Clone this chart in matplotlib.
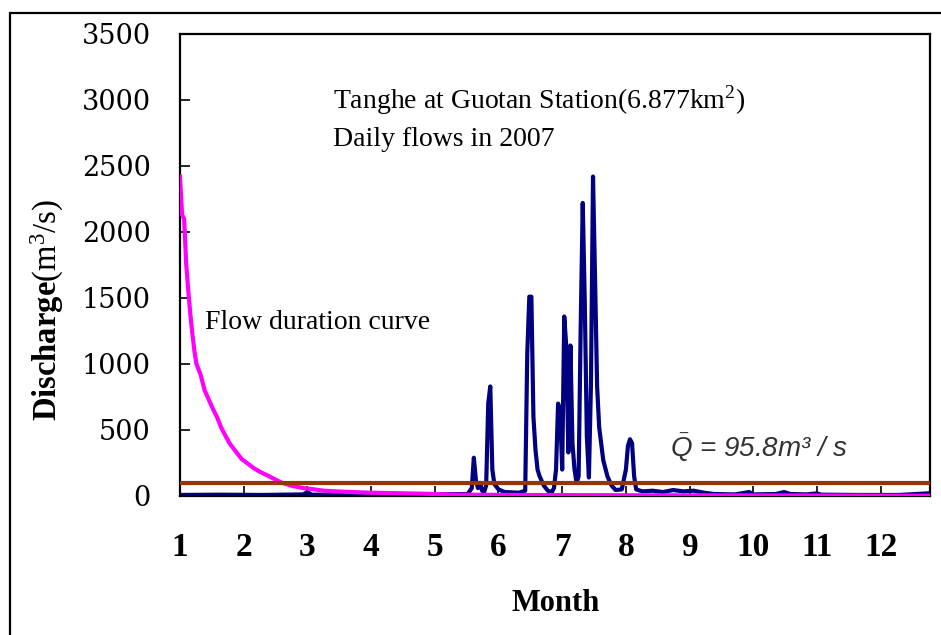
import matplotlib
matplotlib.use("Agg")
import matplotlib.pyplot as plt
from matplotlib.patches import Rectangle

plt.rcParams['mathtext.fontset'] = 'custom'
plt.rcParams['mathtext.rm'] = 'Liberation Serif'
plt.rcParams['mathtext.bf'] = 'Liberation Serif:bold'
plt.rcParams['mathtext.it'] = 'Liberation Sans:italic'

# daily flows in 2007 (day of year, m3/s)
flow_day = [0, 20, 40, 60, 62, 64, 90, 120, 140, 142, 143, 144, 145, 146, 147, 148,
            149, 150, 151, 152, 153, 155, 158, 165, 168, 169, 170, 171, 172, 173, 174,
            175, 177, 179, 181, 182, 183, 184, 185, 186, 187, 188, 189, 190, 191, 192,
            193, 194, 195, 196, 197, 198, 199, 200, 201, 202, 203, 204, 206, 208, 210,
            212, 215, 217, 218, 219, 220, 221, 222, 225, 230, 235, 240, 245, 250, 255,
            260, 270, 277, 279, 290, 294, 297, 305, 310, 312, 330, 350, 364]
flow_q = [8, 10, 8, 12, 30, 10, 10, 12, 15, 60, 290, 120, 60, 100, 40, 30,
          80, 700, 830, 200, 90, 50, 30, 25, 40, 1080, 1510, 1510, 600, 350, 200,
          150, 80, 40, 30, 60, 200, 700, 650, 200, 1360, 1130, 330, 1140, 400, 200,
          100, 150, 1280, 2220, 1460, 450, 140, 850, 2420, 1640, 830, 520, 270, 150, 80,
          45, 50, 200, 380, 430, 400, 150, 50, 35, 40, 30, 45, 35, 40, 25,
          15, 12, 30, 12, 15, 30, 15, 12, 20, 10, 8, 8, 20]

# flow duration curve (flows sorted high to low)
fdc_day = [0, 1, 2, 3, 4, 5, 6, 7, 8, 10, 12, 14, 16, 18, 20, 22, 24, 27, 30, 33, 36,
           39, 42, 45, 48, 50, 55, 60, 64, 70, 80, 93, 110, 125, 134, 160, 200, 250,
           300, 364]
fdc_q = [2420, 2130, 2100, 1760, 1560, 1380, 1230, 1100, 1000, 920, 800, 730, 660, 598,
         520, 460, 402, 340, 280, 245, 210, 182, 160, 136, 112, 98, 75, 60, 53, 40, 32,
         25, 20, 15, 10, 8, 6, 5, 4, 2]

q_mean = 95.8
month_ticks = [0, 31, 62, 93, 124, 155, 186, 217, 248, 279, 310, 341]
month_labels = [str(m) for m in range(1, 13)]
y_ticks = [0, 500, 1000, 1500, 2000, 2500, 3000, 3500]

fig = plt.figure(figsize=(9.41, 6.35), dpi=100)
ax = fig.add_axes([0.1913, 0.2189, 0.7970, 0.7276])

# outer frame of the chart area
fig.patches.append(Rectangle((10 / 941, -0.1), 1.2, (635 - 13) / 635 + 0.1,
                             transform=fig.transFigure, fill=False,
                             edgecolor='black', linewidth=1.6))

ax.plot(flow_day, flow_q, color='#000080', linewidth=3, zorder=2)
ax.plot(fdc_day, fdc_q, color='#FF00FF', linewidth=3, zorder=3)
ax.axhline(q_mean, color='#993300', linewidth=3, zorder=4)

ax.set_xlim(0, 365)
ax.set_ylim(0, 3500)
ax.set_xticks(month_ticks)
ax.set_xticklabels(month_labels, fontfamily='Liberation Serif', fontweight='bold',
                   fontsize=24)
ax.set_yticks(y_ticks)
ax.set_yticklabels([str(v) for v in y_ticks], fontfamily='DejaVu Serif', fontsize=19.5)
ax.tick_params(axis='x', direction='in', length=7, width=1.2, pad=26)
ax.tick_params(axis='y', direction='in', length=7, width=1.2, pad=21)
for s in ax.spines.values():
    s.set_linewidth(1.6)

ax.set_xlabel('Month', fontfamily='Liberation Serif', fontweight='bold', fontsize=22,
              va='center')
ax.xaxis.set_label_coords(0.501, -0.2316)
ax.set_ylabel(r'$\mathbf{Discharge}\mathrm{(m^3/s)}$', fontsize=23.5, va='center',
              ha='center')
ax.yaxis.set_label_coords(-0.1773, 0.4026)

ax.text(0.204, 0.857, r'Tanghe at Guotan Station(6.877km$^2$)', transform=ax.transAxes,
        fontfamily='Liberation Serif', fontsize=20, va='center', ha='left')
ax.text(0.204, 0.7706, 'Daily flows in 2007', transform=ax.transAxes,
        fontfamily='Liberation Serif', fontsize=20, va='center', ha='left')
ax.text(0.0333, 0.3745, 'Flow duration curve', transform=ax.transAxes,
        fontfamily='Liberation Serif', fontsize=20, va='center', ha='left')
ax.text(0.653, 0.105, r'$\bar{Q}$ = 95.8m³ / s', transform=ax.transAxes,
        fontfamily='Liberation Sans', fontstyle='italic', fontsize=20,
        color='#333333', va='center', ha='left')

fig.savefig('out.png', dpi=100)
